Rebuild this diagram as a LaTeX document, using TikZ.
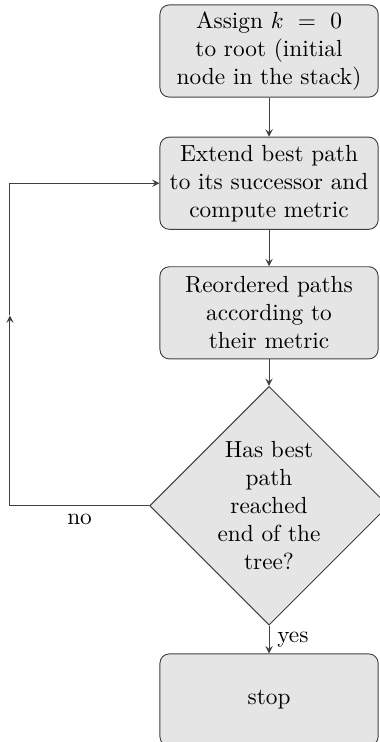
\documentclass[tikz,border=0pt]{standalone}
\usetikzlibrary{positioning,shapes.geometric}

\tikzset{
  stepbox/.style={draw=black!75, fill=black!10, rounded corners=4pt, inner sep=0.1cm,
    text width=3.05cm, align=center, minimum width=3.29cm, minimum height=1.39cm},
  testbox/.style={draw=black!75, fill=black!10, diamond, aspect=1, inner sep=-1.5pt,
    align=center, minimum width=3.6cm, minimum height=3.6cm},
  flow/.style={->, >=stealth, draw=black!75}
}

\begin{document}
\begin{tikzpicture}
  % Page frame (the decision shape runs off the right edge)
  \useasboundingbox (-4.057,0.769) rectangle (1.659,-10.42);

  % Steps of the search
  \node[stepbox] (root) at (0,0) {Assign $k\,=\,0$ to root (initial node in the stack)};
  \node[stepbox, below=0.59cm of root] (extend) {Extend best path to its successor and compute metric};
  \node[stepbox, below=0.55cm of extend] (reorder) {Reordered paths according to their metric};
  \node[testbox, below=0.40cm of reorder] (check) {Has best\\ path\\ reached\\ end of the\\ tree?};
  \node[stepbox, below=0.42cm of check] (stop) {stop};

  % Forward connectors
  \draw[flow] (root) -- (extend);
  \draw[flow] (extend) -- (reorder);
  \draw[flow] (reorder) -- (check);
  \draw[flow] (check) -- node[right] {yes} (stop);

  % Loop back when the end is not reached
  \coordinate[left=2.1cm of check.west] (loopbot);
  \coordinate[above=2.87cm of loopbot] (looptip);
  \draw[flow] (check.west) -- node[below] {no} (loopbot) -- (looptip);
  \draw[flow] (looptip) |- (extend.west);

\end{tikzpicture}
\end{document}
